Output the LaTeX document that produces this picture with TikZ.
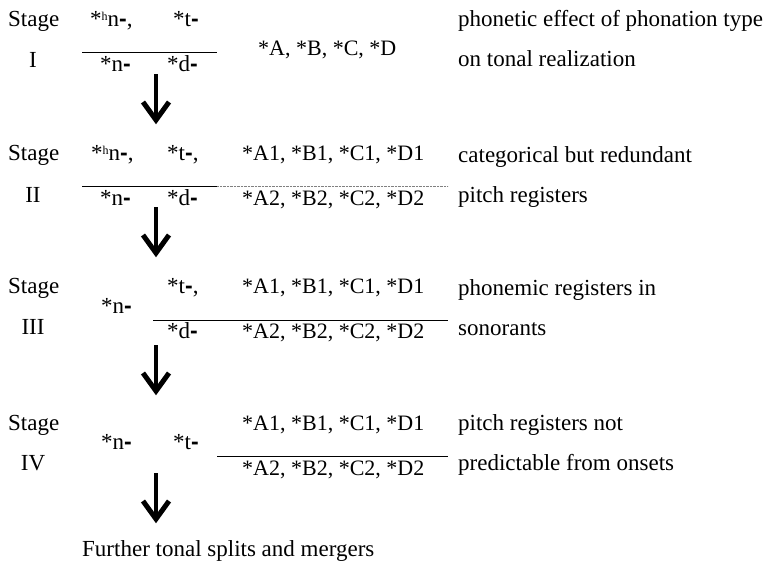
\documentclass[tikz,border=0pt]{standalone}
\usepackage{fontspec}
\usetikzlibrary{calc}
\setmainfont{Liberation Serif}
\newfontfamily\dashfont{Liberation Sans}
\newcommand{\dsh}{{\dashfont\bfseries -}}
\newcommand{\hsup}{\raisebox{6pt}{\fontsize{12}{12}\selectfont h}}
\begin{document}
\begin{tikzpicture}[x=1pt,y=-1pt,
  txt/.style={anchor=base west,inner sep=0pt,font=\fontsize{23}{27}\selectfont},
  lst/.style={anchor=base west,inner sep=0pt,font=\fontsize{22}{26}\selectfont},
  ctr/.style={anchor=base,inner sep=0pt,font=\fontsize{23}{27}\selectfont},
  rule/.style={line width=0.9pt},
  dotrule/.style={line width=0.6pt,gray,dash pattern=on 0.8pt off 0.6pt},
  shaft/.style={line width=4.4pt},
  head/.style={line width=5pt,miter limit=10}]
\useasboundingbox (0,0) rectangle (767,568);
% Stage I
\node[txt] (s1a) at (8,26) {Stage};
\node[ctr] (s1b) at (33,67) {I};
\node[txt] (i1) at (90,26) {*\hsup n\dsh,};
\node[txt] (i2) at (173,26) {*t\dsh};
\node[txt] (i3) at (100,71) {*n\dsh};
\node[txt] (i4) at (167,71) {*d\dsh};
\node[lst] (i5) at (258,55) {*A, *B, *C, *D};
\coordinate (l1a) at (82,52);
\coordinate (l1b) at (217,52);
\draw[rule] (l1a) -- (l1b);
\node[txt] (r1a) at (458,26) {phonetic effect of phonation type};
\node[txt] (r1b) at (458,66) {on tonal realization};
% Stage II
\node[txt] (s2a) at (8,160) {Stage};
\node[ctr] (s2b) at (33,202) {II};
\node[txt] (ii1) at (91,160) {*\hsup n\dsh,};
\node[txt] (ii2) at (167,160) {*t\dsh,};
\node[lst] (ii3) at (242,160) {*A1, *B1, *C1, *D1};
\node[txt] (ii4) at (100,205) {*n\dsh};
\node[txt] (ii5) at (167,205) {*d\dsh};
\node[lst] (ii6) at (242,205) {*A2, *B2, *C2, *D2};
\coordinate (l2a) at (82,186);
\coordinate (l2b) at (217,186);
\coordinate (l2c) at (448,186);
\draw[rule] (l2a) -- (l2b);
\draw[dotrule] (l2b) -- (l2c);
\node[txt] (r2a) at (458,162) {categorical but redundant};
\node[txt] (r2b) at (458,202) {pitch registers};
% Stage III
\node[txt] (s3a) at (8,293) {Stage};
\node[ctr] (s3b) at (33,334) {III};
\node[txt] (iii1) at (101,313) {*n\dsh};
\node[txt] (iii2) at (167,293) {*t\dsh,};
\node[lst] (iii3) at (242,293) {*A1, *B1, *C1, *D1};
\node[txt] (iii4) at (167,338) {*d\dsh};
\node[lst] (iii5) at (242,338) {*A2, *B2, *C2, *D2};
\coordinate (l3a) at (153,320);
\coordinate (l3b) at (448,320);
\draw[rule] (l3a) -- (l3b);
\node[txt] (r3a) at (458,295) {phonemic registers in};
\node[txt] (r3b) at (458,335) {sonorants};
% Stage IV
\node[txt] (s4a) at (8,430) {Stage};
\node[ctr] (s4b) at (33,470) {IV};
\node[txt] (iv1) at (101,449) {*n\dsh};
\node[txt] (iv2) at (173,449) {*t\dsh};
\node[lst] (iv3) at (242,430) {*A1, *B1, *C1, *D1};
\node[lst] (iv4) at (242,475) {*A2, *B2, *C2, *D2};
\coordinate (l4a) at (217,456);
\coordinate (l4b) at (448,456);
\draw[rule] (l4a) -- (l4b);
\node[txt] (r4a) at (458,430) {pitch registers not};
\node[txt] (r4b) at (458,470) {predictable from onsets};
% Final
\node[txt] (fin) at (82,556) {Further tonal splits and mergers};
% Arrows
\foreach \n/\t in {1/74,2/207,3/345,4/473}{
  \coordinate (a\n s) at (156,\t);
  \coordinate (a\n e) at (156,\t+46);
  \coordinate (a\n l) at (143,\t+28);
  \coordinate (a\n r) at (169,\t+28);
  \draw[shaft] (a\n s) -- ($(a\n e)+(0,-3)$);
  \draw[head] (a\n l) -- (a\n e) -- (a\n r);
}
\end{tikzpicture}
\end{document}
